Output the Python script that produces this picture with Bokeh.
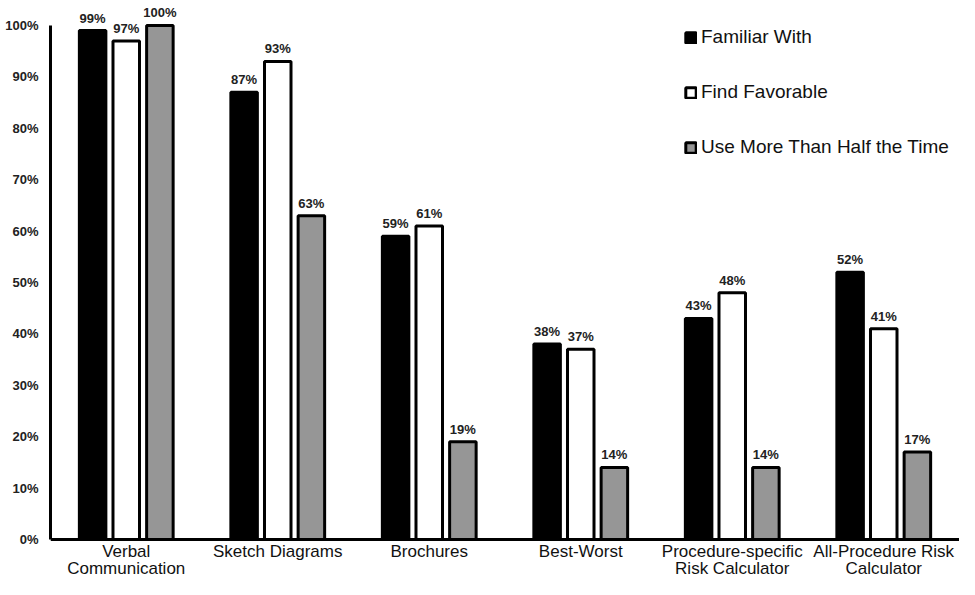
from bokeh.plotting import figure
from bokeh.models import ColumnDataSource, FactorRange, Range1d, FixedTicker, PrintfTickFormatter, LabelSet, Legend, LegendItem, Span
from bokeh.transform import dodge
from bokeh.core.properties import value
from bokeh.embed import file_html
from bokeh.resources import INLINE

categories = ["Verbal Communication", "Sketch Diagrams", "Brochures", "Best-Worst",
              "Procedure-specific Risk Calculator", "All-Procedure Risk Calculator"]
label_line1 = ["Verbal", "Sketch Diagrams", "Brochures", "Best-Worst",
               "Procedure-specific", "All-Procedure Risk"]
label_line2 = ["Communication", "", "", "", "Risk Calculator", "Calculator"]
series_names = ["Familiar With", "Find Favorable", "Use More Than Half the Time"]
familiar = [99, 87, 59, 38, 43, 52]
favorable = [97, 93, 61, 37, 48, 41]
use_half = [100, 63, 19, 14, 14, 17]
y_ticks = [0, 10, 20, 30, 40, 50, 60, 70, 80, 90, 100]

FONT = "Liberation Sans"

src = ColumnDataSource(dict(
    cat=categories, familiar=familiar, favorable=favorable, use_half=use_half,
    familiar_t=[f"{v}%" for v in familiar],
    favorable_t=[f"{v}%" for v in favorable],
    use_half_t=[f"{v}%" for v in use_half],
    l1=label_line1, l2=label_line2, zero=[0] * len(categories),
))

p = figure(width=959, height=579, output_backend="svg", toolbar_location=None,
           x_range=FactorRange(*categories, range_padding=0),
           y_range=Range1d(-7.8, 104.86),
           min_border_left=50, min_border_right=0, min_border_top=0, min_border_bottom=0)
p.outline_line_color = None
p.xgrid.grid_line_color = None
p.ygrid.grid_line_color = None
p.background_fill_color = "white"
p.xaxis.visible = False

W = 0.175
OFF = 0.222
cols = [("familiar", -OFF, "black"), ("favorable", 0.0, "white"), ("use_half", OFF, "#969696")]
renderers = []
for field, off, color in cols:
    r = p.vbar(x=dodge("cat", off, range=p.x_range), top=field, bottom=0, width=W, source=src,
               fill_color=color, line_color="black", line_width=3)
    renderers.append(r)
    lbl = LabelSet(x=dodge("cat", off, range=p.x_range), y=field, text=field + "_t", source=src,
                   text_align="center", text_baseline="bottom", y_offset=5,
                   text_font=value(FONT), text_font_size="13px", text_font_style="bold",
                   text_color="#222222")
    p.add_layout(lbl)

# baseline (category axis line)
p.add_layout(Span(location=0, dimension="width", line_color="black", line_width=3))

# category labels (two lines)
for fld, yoff in (("l1", -22), ("l2", -39)):
    p.add_layout(LabelSet(x="cat", y="zero", text=fld, source=src, y_offset=yoff,
                          text_align="center", text_baseline="bottom",
                          text_font=value(FONT), text_font_size="17px", text_color="#111111"))

# y axis
p.yaxis.ticker = FixedTicker(ticks=y_ticks)
p.yaxis.formatter = PrintfTickFormatter(format="%d%%")
p.yaxis.bounds = (0, 100)
p.yaxis.axis_line_width = 3
p.yaxis.major_tick_line_color = None
p.yaxis.minor_tick_line_color = None
p.yaxis.major_tick_out = 0
p.yaxis.major_tick_in = 0
p.yaxis.major_label_standoff = 12
p.yaxis.major_label_text_font = FONT
p.yaxis.major_label_text_font_size = "13px"
p.yaxis.major_label_text_font_style = "bold"
p.yaxis.major_label_text_color = "#222222"

legend = Legend(items=[LegendItem(label=n, renderers=[r]) for n, r in zip(series_names, renderers)],
                location=(634, 421), padding=0, margin=0, spacing=33,
                label_height=20, glyph_height=13, glyph_width=13, label_standoff=4,
                label_text_font=FONT, label_text_font_size="19px", label_text_color="#111111",
                border_line_color=None, background_fill_alpha=0)
p.add_layout(legend, "center")

open("out.html", "w").write(file_html(p, INLINE))
